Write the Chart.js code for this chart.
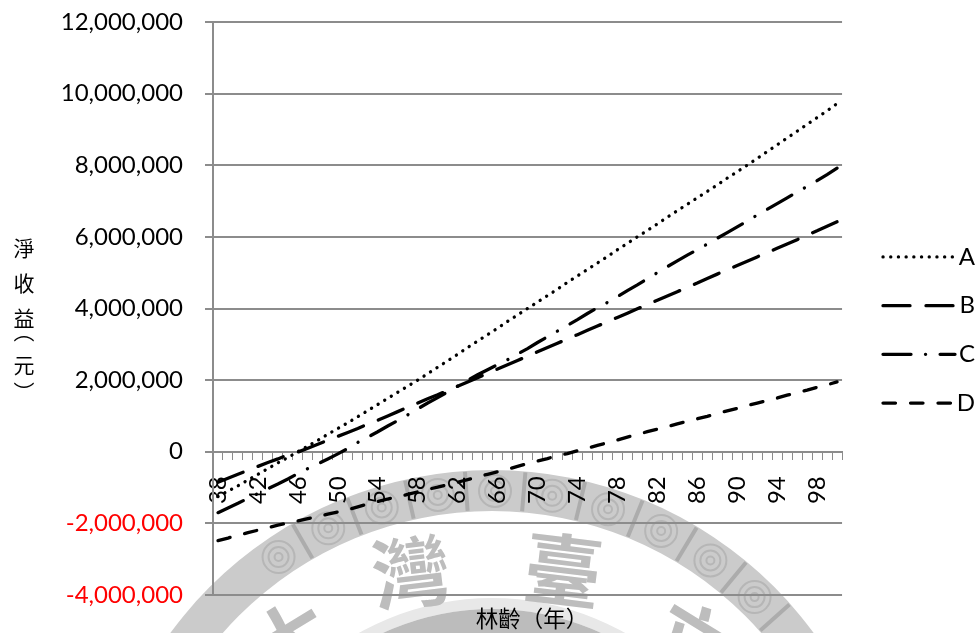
<!DOCTYPE html>
<html>
<head>
<meta charset="utf-8">
<title>淨收益</title>
<script src="https://cdn.jsdelivr.net/npm/chart.js@4/dist/chart.umd.js"></script>
<style>
  body { margin: 0; background: #fff; }
  canvas { display: block; }
</style>
</head>
<body>
<canvas id="netChart" width="977" height="633"></canvas>
<script>
// 林齡 38-100 年
const ages = [38,39,40,41,42,43,44,45,46,47,48,49,50,51,52,53,54,55,56,57,58,59,60,61,62,63,64,65,66,67,68,
  69,70,71,72,73,74,75,76,77,78,79,80,81,82,83,84,85,86,87,88,89,90,91,92,93,94,95,96,97,98,99,100];

// 淨收益 (百萬元)
const netA = [-1.25,-1.10,-0.95,-0.79,-0.63,-0.47,-0.31,-0.16,0,0.16,0.32,0.49,0.65,0.81,0.98,1.15,1.32,1.49,1.66,1.83,2.00,
  2.18,2.36,2.54,2.72,2.91,3.09,3.27,3.45,3.64,3.82,4.00,4.18,4.36,4.54,4.73,4.91,5.09,5.27,5.45,5.64,5.82,6.00,
  6.18,6.36,6.55,6.73,6.91,7.09,7.27,7.45,7.64,7.82,8.00,8.19,8.38,8.57,8.76,8.95,9.14,9.33,9.52,9.72];
const netB = [-0.85,-0.74,-0.63,-0.52,-0.41,-0.30,-0.20,-0.09,-0.01,0.10,0.21,0.32,0.43,0.54,0.65,0.77,0.88,1.00,1.12,1.24,1.36,
  1.48,1.59,1.71,1.83,1.95,2.07,2.19,2.31,2.43,2.55,2.67,2.79,2.91,3.03,3.15,3.27,3.39,3.51,3.63,3.75,3.87,3.99,
  4.11,4.23,4.35,4.47,4.59,4.71,4.84,4.96,5.08,5.20,5.32,5.44,5.56,5.68,5.80,5.92,6.05,6.17,6.30,6.42];
const netC = [-1.70,-1.57,-1.44,-1.30,-1.17,-1.03,-0.90,-0.76,-0.61,-0.47,-0.34,-0.20,-0.06,0.09,0.26,0.41,0.56,0.72,0.87,1.03,1.20,
  1.36,1.51,1.67,1.83,1.99,2.15,2.29,2.43,2.57,2.73,2.88,3.05,3.21,3.37,3.53,3.69,3.86,4.02,4.17,4.33,4.50,4.66,
  4.83,5.00,5.17,5.33,5.49,5.64,5.80,5.96,6.12,6.28,6.44,6.61,6.77,6.93,7.09,7.25,7.41,7.57,7.74,7.92];
const netD = [-2.48,-2.41,-2.33,-2.26,-2.19,-2.12,-2.05,-1.99,-1.93,-1.87,-1.81,-1.74,-1.68,-1.62,-1.54,-1.46,-1.39,-1.32,-1.26,-1.19,-1.12,
  -1.05,-0.99,-0.92,-0.85,-0.78,-0.70,-0.63,-0.56,-0.49,-0.41,-0.33,-0.26,-0.19,-0.11,-0.05,0.03,0.10,0.18,0.25,0.33,0.41,0.48,
  0.56,0.63,0.70,0.78,0.85,0.92,0.99,1.07,1.14,1.21,1.29,1.36,1.43,1.50,1.58,1.65,1.72,1.80,1.87,1.95];

const seriesNames = ["A", "B", "C", "D"];
const yTicks = [-4000000,-2000000,0,2000000,4000000,6000000,8000000,10000000,12000000];

const GRID_GRAY = "#8c8c8c";
const TICK_FONT = { family: "Lato", size: 24 };
const TITLE_FONT = '"Noto Sans CJK TC"';
const LINE_WIDTH = 3.3;
const toYuan = arr => arr.map(v => v * 1000000);

// 座標軸不額外預留邊距
function clearAxisPadding(scale) {
  scale.paddingTop = 0;
  scale.paddingBottom = 0;
  scale.paddingLeft = 0;
  scale.paddingRight = 0;
}

// 背景校徽：外環、內環與文字
const sealPlugin = {
  id: "seal",
  beforeDraw(chart) {
    const ctx = chart.ctx;
    const cx = 492, cy = 869;
    ctx.save();
    ctx.fillStyle = "#fff";
    ctx.fillRect(0, 0, chart.width, chart.height);

    ctx.beginPath();
    ctx.arc(cx, cy, 399, 0, Math.PI * 2);
    ctx.arc(cx, cy, 358, 0, Math.PI * 2, true);
    ctx.fillStyle = "#cbcbcb";
    ctx.fill();

    for (let a = -Math.PI / 2 - 0.6; a < -Math.PI / 2 + 0.9; a += 0.152) {
      const mx = cx + 378 * Math.cos(a), my = cy + 378 * Math.sin(a);
      ctx.strokeStyle = "#b6b6b6";
      ctx.lineWidth = 2;
      [16, 10, 4].forEach(r => {
        ctx.beginPath();
        ctx.arc(mx, my, r, 0, Math.PI * 2);
        ctx.stroke();
      });
      const b = a + 0.076;
      ctx.strokeStyle = "#acacac";
      ctx.lineWidth = 4;
      ctx.beginPath();
      ctx.moveTo(cx + 359 * Math.cos(b), cy + 359 * Math.sin(b));
      ctx.lineTo(cx + 398 * Math.cos(b), cy + 398 * Math.sin(b));
      ctx.stroke();
    }

    // 內環
    ctx.beginPath();
    ctx.arc(cx, cy, 271, 0, Math.PI * 2);
    ctx.arc(cx, cy, 260, 0, Math.PI * 2, true);
    ctx.fillStyle = "#e8e8e8";
    ctx.fill();
    ctx.beginPath();
    ctx.arc(cx, cy, 260, 0, Math.PI * 2);
    ctx.arc(cx, cy, 235, 0, Math.PI * 2, true);
    ctx.fillStyle = "#bcbcbc";
    ctx.fill();

    // 校名
    ctx.fillStyle = "#bdbdbd";
    ctx.textAlign = "center";
    ctx.textBaseline = "middle";
    ctx.font = "bold 78px " + TITLE_FONT;
    [["灣", 411, 572, -0.12], ["臺", 563, 570, 0.12], ["大", 290, 640, -0.55], ["立", 690, 640, 0.55]].forEach(([ch, x, y, rot]) => {
      ctx.save();
      ctx.translate(x, y);
      ctx.rotate(rot);
      ctx.fillText(ch, 0, 0);
      ctx.restore();
    });
    ctx.restore();
  }
};

// 軸標題：縱軸逐字直排
const axisTitlePlugin = {
  id: "axisTitles",
  afterDraw(chart) {
    const ctx = chart.ctx;
    ctx.save();
    ctx.fillStyle = "#000";
    ctx.textAlign = "center";
    ctx.textBaseline = "middle";
    ctx.font = "21px " + TITLE_FONT;
    [["淨", 248], ["收", 283], ["益", 318], ["︵", 331], ["元", 365], ["︶", 392]].forEach(([ch, y]) => {
      ctx.fillText(ch, 24, y);
    });
    ctx.font = "22.5px " + TITLE_FONT;
    ctx.fillText("林齡（年）", 532, 618);
    ctx.restore();
  }
};

// 圖例靠右擺放
const legendPlacePlugin = {
  id: "legendPlace",
  afterLayout(chart) {
    const lg = chart.legend;
    lg.left = 858.3;
    lg.right = 975;
    lg.top += 21.5;
    lg.bottom += 21.5;
  }
};

const chartDatasets = [
  { label: seriesNames[0], data: toYuan(netA), borderDash: [0.1, 7.6] },
  { label: seriesNames[1], data: toYuan(netB), borderDash: [27, 16] },
  { label: seriesNames[2], data: toYuan(netC), borderDash: [28, 14.5, 0.1, 14.5] },
  { label: seriesNames[3], data: toYuan(netD), borderDash: [12.5, 15] }
].map(d => ({ ...d, borderColor: "#000", backgroundColor: "#000", borderWidth: LINE_WIDTH, borderCapStyle: "round", pointRadius: 0, tension: 0 }));

new Chart(document.getElementById("netChart"), {
  type: "line",
  data: { labels: ages, datasets: chartDatasets },
  options: {
    responsive: false,
    animation: false,
    layout: { padding: { top: 22, bottom: 38, left: 0, right: -2 } },
    plugins: {
      legend: {
        position: "right",
        labels: {
          usePointStyle: true,
          pointStyle: "line",
          pointStyleWidth: 72,
          padding: 24.7,
          color: "#000",
          textAlign: "right",
          font: TICK_FONT,
          generateLabels(chart) {
            return chart.data.datasets.map((ds, i) => ({
              text: ds.label,
              datasetIndex: i,
              fontColor: "#000",
              fillStyle: "#000",
              strokeStyle: "#000",
              lineWidth: LINE_WIDTH,
              lineDash: ds.borderDash,
              lineCap: "round",
              pointStyle: "line",
              textAlign: "right"
            }));
          }
        }
      },
      tooltip: { enabled: false }
    },
    scales: {
      x: {
        position: { y: 0 },
        offset: true,
        afterFit: clearAxisPadding,
        grid: { offset: true, drawOnChartArea: false, color: GRID_GRAY, lineWidth: 1, tickLength: 7 },
        border: { color: GRID_GRAY, width: 2 },
        ticks: {
          autoSkip: false,
          minRotation: 90,
          maxRotation: 90,
          padding: 17.5,
          color: "#000",
          font: TICK_FONT,
          callback(val, i) { return i % 4 === 0 ? this.getLabelForValue(val) : ""; }
        }
      },
      y: {
        min: -4000000,
        max: 12000000,
        afterFit(scale) { clearAxisPadding(scale); scale.width = 213; },
        afterBuildTicks(scale) { scale.ticks = yTicks.map(v => ({ value: v })); },
        grid: { color: GRID_GRAY, lineWidth: 2, tickLength: 8 },
        border: { color: GRID_GRAY, width: 2 },
        ticks: {
          padding: 22,
          font: TICK_FONT,
          color: ctx => (ctx.tick.value < 0 ? "#ff0000" : "#000"),
          callback: v => v.toLocaleString("en-US")
        }
      }
    }
  },
  plugins: [sealPlugin, axisTitlePlugin, legendPlacePlugin]
});
</script>
</body>
</html>
